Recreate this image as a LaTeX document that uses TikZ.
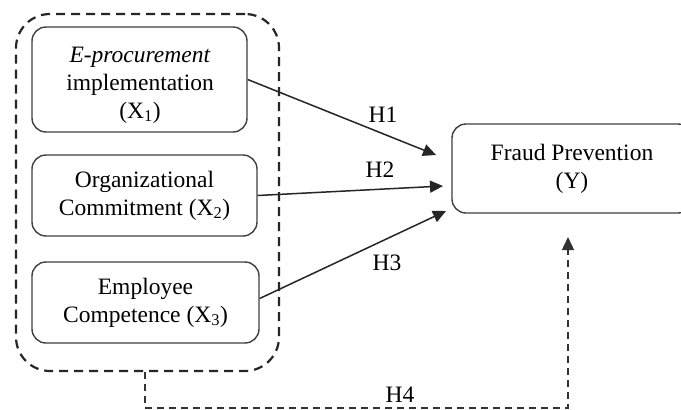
\documentclass[tikz,border=0pt]{standalone}
\usepackage{fontspec}
\setmainfont{Liberation Serif}
\usetikzlibrary{arrows.meta}
\tikzset{
  varbox/.style={draw=black!75, line width=1.4pt, rounded corners=14pt, align=center, inner sep=0pt},
  grpbox/.style={draw=black!85, line width=2.2pt, dash pattern=on 9pt off 6pt, rounded corners=34pt, inner sep=0pt},
  hyp/.style={line width=1.5pt, draw=black!85, -{Triangle[length=13pt,width=12pt]}},
  hypdash/.style={line width=1.3pt, draw=black!80, dash pattern=on 7pt off 5pt, -{Triangle[length=13pt,width=12pt]}},
  plain/.style={inner sep=0pt, align=center},
  hyplabel/.style={inner sep=0pt}
}
\begin{document}
\begin{tikzpicture}[x=1pt,y=-1pt, font=\fontsize{23.5}{28}\selectfont]
\clip (0,0) rectangle (681,410);
\fill[white] (0,0) rectangle (681,410);
\node[grpbox, minimum width=263pt, minimum height=357pt] (grp) at (147.5,192.5) {};
\node[varbox, minimum width=215pt, minimum height=105pt] (b1) at (139.5,79.5) {};
\node[plain] (b1t) at (140,85) {\textit{E-procurement}\\implementation\\(X\textsubscript{1})};
\node[varbox, minimum width=225pt, minimum height=81pt] (b2) at (144.5,195.5) {Organizational\\Commitment (X\textsubscript{2})};
\node[varbox, minimum width=227pt, minimum height=81pt] (b3) at (145.5,302.5) {Employee\\Competence (X\textsubscript{3})};
\node[varbox, minimum width=240pt, minimum height=89pt] (y) at (572,168.5) {Fraud Prevention\\(Y)};
\coordinate (t1) at (436,155);
\coordinate (t2) at (443,186);
\coordinate (t3) at (446,211);
\coordinate (h4a) at (145,408);
\coordinate (h4b) at (568,408);
\coordinate (t4) at (568,237);
\draw[hyp] (b1.east) -- (t1);
\draw[hyp] (b2.east) -- (t2);
\draw[hyp] ([yshift=4pt]b3.east) -- (t3);
\draw[hypdash] (grp.south -| h4a) -- (h4a) -- (h4b) -- (t4);
\node[hyplabel] (l1) at (383,115) {H1};
\node[hyplabel] (l2) at (380,170) {H2};
\node[hyplabel] (l3) at (387,263) {H3};
\node[hyplabel] (l4) at (400,395) {H4};
\end{tikzpicture}
\end{document}
